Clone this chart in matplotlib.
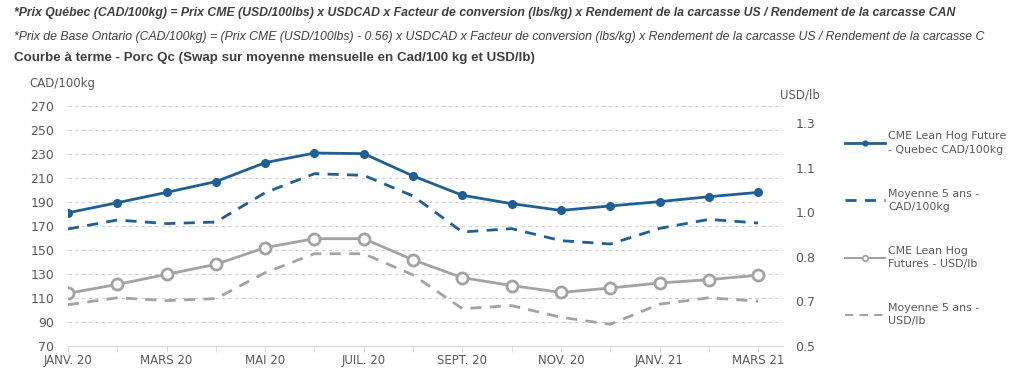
import matplotlib
matplotlib.use('Agg')
import matplotlib.pyplot as plt
from matplotlib.lines import Line2D
from matplotlib.ticker import FuncFormatter

# --- data ---
months = ['JANV. 20', 'FÉVR. 20', 'MARS 20', 'AVR. 20', 'MAI 20', 'JUIN 20', 'JUIL. 20', 'AOÛT 20',
          'SEPT. 20', 'OCT. 20', 'NOV. 20', 'DÉC. 20', 'JANV. 21', 'FÉVR. 21', 'MARS 21']
quebec_cad = [181, 189.4, 198, 207, 222.8, 230.8, 230.3, 211.7, 195.6, 188.6, 183, 186.7, 190.3, 194.4, 198]
avg5_cad = [167.5, 175, 172, 173.3, 197.8, 213.6, 212.2, 195, 165, 167.8, 157.8, 155, 168, 175.5, 172.5]
lh_usd = [0.689, 0.721, 0.757, 0.793, 0.853, 0.885, 0.885, 0.809, 0.745, 0.717, 0.692, 0.708, 0.726, 0.738, 0.754]
avg5_usd = [0.648, 0.673, 0.663, 0.670, 0.763, 0.831, 0.831, 0.755, 0.634, 0.645, 0.603, 0.578, 0.650, 0.673, 0.661]

left_ticks = [70, 90, 110, 130, 150, 170, 190, 210, 230, 250, 270]
right_ticks = [0.5, 0.66, 0.82, 0.98, 1.14, 1.3]

header1 = ("*Prix Québec (CAD/100kg) = Prix CME (USD/100lbs) x USDCAD x Facteur de conversion (lbs/kg) "
           "x Rendement de la carcasse US / Rendement de la carcasse CAN")
header2 = ("*Prix de Base Ontario (CAD/100kg) = (Prix CME (USD/100lbs) - 0.56) x USDCAD x Facteur de conversion "
           "(lbs/kg) x Rendement de la carcasse US / Rendement de la carcasse C")
header3 = "Courbe à terme - Porc Qc (Swap sur moyenne mensuelle en Cad/100 kg et USD/lb)"

legend_labels = ['CME Lean Hog Future\n- Quebec CAD/100kg', 'Moyenne 5 ans -\nCAD/100kg',
                 'CME Lean Hog\nFutures - USD/lb', 'Moyenne 5 ans -\nUSD/lb']

BLUE = '#1f5f93'
GRAY = '#a3a3a3'
TXT = '#595959'

plt.rcParams['font.family'] = ['DejaVu Sans']

fig = plt.figure(figsize=(10.24, 3.86), dpi=100)
ax = fig.add_axes([0.0664, 0.1036, 0.698, 0.6218])
ax2 = ax.twinx()

x = list(range(len(months)))

ax.plot(x, quebec_cad, color=BLUE, lw=2, marker='o', ms=5.5, zorder=4)
ax.plot(x, avg5_cad, color=BLUE, lw=2, ls=(0, (4, 3)), zorder=3)
ax2.plot(x, lh_usd, color=GRAY, lw=2, marker='o', ms=8, mfc='white', mec=GRAY, mew=2, zorder=4)
ax2.plot(x, avg5_usd, color=GRAY, lw=2, ls=(0, (4, 3)), zorder=3)

ax.set_xlim(0, 14.5)
ax.set_ylim(70, 270)
ax2.set_ylim(0.5, 0.5 + 200 * 0.16 / 37.17)
ax.set_yticks(left_ticks)
ax2.set_yticks(right_ticks)
ax2.yaxis.set_major_formatter(FuncFormatter(lambda v, p: f'{v:.1f}'))

ax.set_xticks(x[::2])
ax.set_xticklabels(months[::2])
ax.set_xticks(x, minor=True)

ax.yaxis.grid(True, color='#d0d0d0', ls=(0, (3, 3)), lw=0.8)
ax.set_axisbelow(True)

for a in (ax, ax2):
    for s in ('top', 'right', 'left'):
        a.spines[s].set_visible(False)
    a.spines['bottom'].set_color('#d9d9d9')
    a.tick_params(axis='y', length=0, colors=TXT, labelsize=9)
ax.tick_params(axis='y', pad=10)
ax2.tick_params(axis='y', pad=9)
ax.tick_params(axis='x', which='both', length=4, color='#d9d9d9', colors=TXT, labelsize=8.5, pad=2)
ax.tick_params(axis='x', which='minor', length=4, color='#d9d9d9')

fig.text(0.029, 0.775, 'CAD/100kg', color=TXT, fontsize=8.5)
fig.text(0.762, 0.745, 'USD/lb', color=TXT, fontsize=8.5)

fig.text(0.014, 0.967, header1, fontsize=8.85, fontweight='bold', style='italic', color='#404040',
         family='Liberation Sans', va='center')
fig.text(0.014, 0.905, header2, fontsize=8.85, style='italic', color='#404040',
         family='Liberation Sans', va='center')
fig.text(0.014, 0.850, header3, fontsize=9.6, fontweight='bold', color='#404040',
         family='Liberation Sans', va='center')

handles = [
    Line2D([], [], color=BLUE, lw=2, marker='o', ms=3.5),
    Line2D([], [], color=BLUE, lw=2, ls=(0, (4, 3))),
    Line2D([], [], color=GRAY, lw=1.5, marker='o', ms=4, mfc='white', mec=GRAY, mew=1.3),
    Line2D([], [], color=GRAY, lw=1.5, ls=(0, (4, 3))),
]
leg = fig.legend(handles, legend_labels, loc='upper left', bbox_to_anchor=(0.816, 0.685), frameon=False,
                 fontsize=7.9, labelcolor=TXT, handlelength=3.6, handletextpad=0.3, labelspacing=3.1)
for t in leg.get_texts():
    t.set_linespacing(1.4)

fig.savefig('out.png', dpi=100, facecolor='white')
